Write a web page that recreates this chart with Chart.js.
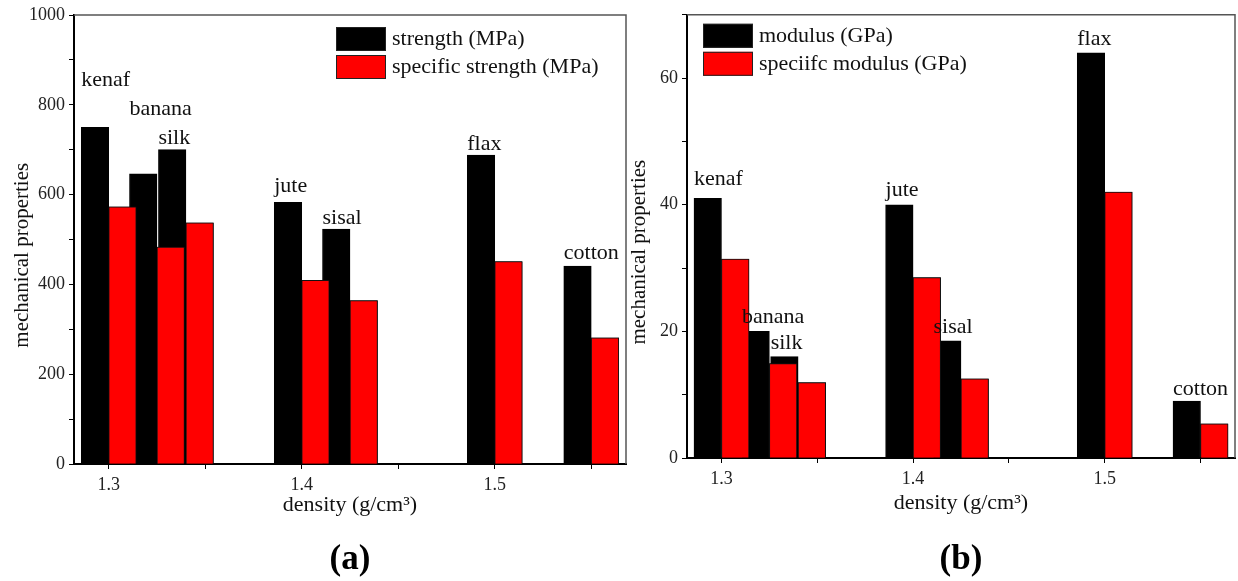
<!DOCTYPE html>
<html>
<head>
<meta charset="utf-8">
<script src="https://cdn.jsdelivr.net/npm/chart.js@4"></script>
<style>
  body { margin: 0; background: #fff; }
  #wrap { position: relative; width: 1238px; height: 581px; }
  canvas { position: absolute; top: 0; }
  #chartA { left: 0; }
  #chartB { left: 620px; }
</style>
</head>
<body>
<div id="wrap">
  <canvas id="chartA" width="632" height="581"></canvas>
  <canvas id="chartB" width="618" height="581"></canvas>
</div>
<script>
var fibers = ['kenaf', 'banana', 'silk', 'jute', 'sisal', 'flax', 'cotton'];
var density = [1.30, 1.325, 1.34, 1.40, 1.425, 1.50, 1.55];

var strength = [750, 646, 700, 583, 523, 688, 441];
var specStrength = [573, 483, 537, 409, 364, 451, 281];

var modulus = [41, 20, 16, 40, 18.5, 64, 9];
var specModulus = [31.4, 14.9, 11.9, 28.5, 12.5, 42, 5.4];

// where the fibre names sit (value units of each y axis)
var labelYA = [855, 791, 726, 619, 548, 713, 470];
var labelYB = [44.0, 22.3, 18.1, 42.3, 20.6, 66.1, 10.8];

var serif = "'Liberation Serif', 'Times New Roman', serif";

function points(vals) {
  return density.map(function(d, i) { return { x: d, y: vals[i] }; });
}

// red bars go over the black ones, like the original
var redOnTop = {
  id: 'redOnTop',
  afterDatasetsDraw: function(chart) {
    var ctx = chart.ctx, a = chart.chartArea;
    ctx.save();
    ctx.beginPath();
    ctx.rect(a.left, a.top, a.right - a.left, a.bottom - a.top);
    ctx.clip();
    chart.getDatasetMeta(1).data.forEach(function(bar) { bar.draw(ctx); });
    ctx.restore();
  }
};

var decor = {
  id: 'decor',
  afterDraw: function(chart, args, opts) {
    var ctx = chart.ctx, a = chart.chartArea;
    ctx.save();
    // top and right frame
    ctx.strokeStyle = '#555';
    ctx.lineWidth = 1.5;
    ctx.beginPath();
    ctx.moveTo(a.left, a.top);
    ctx.lineTo(a.right, a.top);
    ctx.lineTo(a.right, a.bottom);
    ctx.stroke();

    // fibre names
    ctx.font = '22px ' + serif;
    ctx.fillStyle = '#111';
    ctx.textAlign = 'left';
    ctx.textBaseline = 'middle';
    var bars = chart.getDatasetMeta(0).data;
    fibers.forEach(function(name, i) {
      var b = bars[i];
      ctx.fillText(name, b.x - b.width / 2, chart.scales.y.getPixelForValue(opts.labelY[i]));
    });

    // legend
    var lx = a.left + opts.legendX, ly = a.top + opts.legendY;
    chart.data.datasets.forEach(function(ds, i) {
      var y = ly + i * 28;
      ctx.fillStyle = ds.backgroundColor;
      ctx.fillRect(lx, y, 50, 24);
      ctx.strokeStyle = '#222';
      ctx.lineWidth = 1;
      ctx.strokeRect(lx + 0.5, y + 0.5, 49, 23);
      ctx.fillStyle = '#111';
      ctx.fillText(ds.label, lx + 56, y + 12);
    });
    ctx.restore();
  }
};

function makeChart(id, cfg) {
  return new Chart(document.getElementById(id), {
    type: 'bar',
    data: {
      datasets: [{
        label: cfg.names[0],
        data: points(cfg.black),
        backgroundColor: '#000',
        borderColor: '#000',
        borderWidth: 1,
        barThickness: 27.5
      }, {
        label: cfg.names[1],
        data: points(cfg.red),
        backgroundColor: '#ff0000',
        borderColor: '#111',
        borderWidth: 1,
        barThickness: 27.5
      }]
    },
    plugins: [redOnTop, decor],
    options: {
      responsive: false,
      animation: false,
      layout: { padding: { left: 0, right: cfg.padRight, top: cfg.padTop, bottom: 0 } },
      plugins: {
        legend: { display: false },
        tooltip: { enabled: false },
        title: {
          display: true,
          text: cfg.panel,
          position: 'bottom',
          fullSize: false,
          color: '#000',
          font: { family: serif, size: 35, weight: 'bold', lineHeight: 1 },
          padding: { top: 0, bottom: 4 }
        },
        decor: { labelY: cfg.labelY, legendX: cfg.legendX, legendY: cfg.legendY }
      },
      scales: {
        x: {
          type: 'linear',
          min: 1.282,
          max: 1.568,
          offset: false,
          afterFit: function(s) { s.height = cfg.xHeight; },
          border: { color: '#000', width: 2 },
          grid: { drawOnChartArea: false, offset: false, color: '#000', tickLength: 5 },
          ticks: {
            stepSize: 0.05,
            includeBounds: false,
            autoSkip: false,
            maxRotation: 0,
            padding: 5,
            color: '#222',
            font: { family: serif, size: 18 },
            callback: function(v) {
              var t = Math.round(v * 100);
              return t % 10 === 0 ? (t / 100).toFixed(1) : '';
            }
          },
          title: {
            display: true,
            text: 'density (g/cm\u00b3)',
            color: '#111',
            font: { family: serif, size: 22, lineHeight: 1 },
            padding: { top: 0, bottom: cfg.xTitlePad }
          }
        },
        y: {
          min: 0,
          max: cfg.yMax,
          afterFit: function(s) { s.width = cfg.yWidth; },
          border: { color: '#000', width: 2 },
          grid: { drawOnChartArea: false, color: '#000', tickLength: 5 },
          ticks: {
            stepSize: cfg.yStep,
            autoSkip: false,
            padding: 4,
            color: '#222',
            font: { family: serif, size: 18 },
            callback: function(v) { return v % (cfg.yStep * 2) === 0 ? v : ''; }
          },
          title: {
            display: true,
            // trailing spaces push the rotated text a little lower, as in the original
            text: 'mechanical properties\u00a0\u00a0\u00a0\u00a0\u00a0\u00a0',
            color: '#111',
            font: { family: serif, size: 21, lineHeight: 1 },
            padding: { top: cfg.yTitlePad, bottom: 0 }
          }
        }
      }
    }
  });
}

makeChart('chartA', {
  names: ['strength (MPa)', 'specific strength (MPa)'],
  black: strength, red: specStrength, labelY: labelYA,
  panel: '(a)', yMax: 1000, yStep: 100,
  padRight: 6, padTop: 15, yWidth: 74, xHeight: 78, xTitlePad: 26, yTitlePad: 11.5,
  legendX: 262, legendY: 12
});

makeChart('chartB', {
  names: ['modulus (GPa)', 'speciifc modulus (GPa)'],
  black: modulus, red: specModulus, labelY: labelYB,
  panel: '(b)', yMax: 70, yStep: 10,
  padRight: 3, padTop: 13, yWidth: 67, xHeight: 84, xTitlePad: 28, yTitlePad: 9,
  legendX: 16, legendY: 9
});
</script>
</body>
</html>
